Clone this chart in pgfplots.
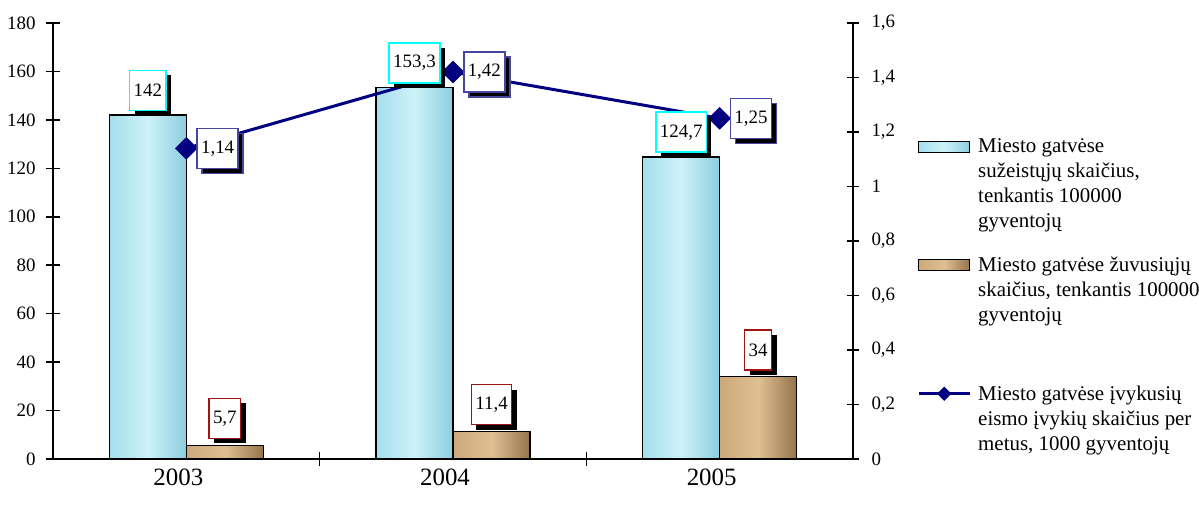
\documentclass[border=0pt]{standalone}
\usepackage{fontspec}
\setmainfont{Liberation Serif}
\usepackage{pgfplots}
\usepackage{pgfplotstable}
\pgfplotsset{compat=1.18}
\usetikzlibrary{shadows}
\definecolor{cyanb}{RGB}{0,255,255}
\definecolor{redb}{RGB}{160,20,20}
\definecolor{navy}{RGB}{0,0,128}
\definecolor{violb}{RGB}{70,70,160}
\definecolor{w1}{RGB}{165,222,235}
\definecolor{w2}{RGB}{205,242,249}
\definecolor{w3}{RGB}{140,205,222}
\definecolor{b1}{RGB}{205,168,122}
\definecolor{b2}{RGB}{222,192,148}
\definecolor{b3}{RGB}{150,115,75}

\pgfplotstableread{
x y lab
0 142 142
1 153.3 153,3
2 124.7 124,7
}\injured
\pgfplotstableread{
x y lab
0 5.7 5,7
1 11.4 11,4
2 34 34
}\killed
\pgfplotstableread{
x y lab
0 1.14 1,14
1 1.42 1,42
2 1.25 1,25
}\accidents

\tikzset{
  blueb/.style={draw=black, line width=1.2bp, left color=w1, right color=w3, middle color=w2},
  brownb/.style={draw=black, line width=1.2bp, left color=b1, right color=b3, middle color=b2},
  lab/.style={fill=white, line width=1.5bp, minimum height=40bp, inner xsep=4bp,
    text=black, font=\fontsize{19}{22}\selectfont,
    drop shadow={shadow xshift=5bp, shadow yshift=-5bp, fill=black, opacity=1}},
}
\pgfplotsset{
  boxlegend/.style={legend image code/.code={\draw[##1] (0bp,-13.5bp) rectangle (51bp,-2.5bp);}},
  linelegend/.style={legend image code/.code={\draw[##1, mark size=4.5bp, mark repeat=2, mark phase=2] plot coordinates {(0bp,-8bp) (25.5bp,-8bp) (51bp,-8bp)};}},
  common/.style={scale only axis, width=800bp, height=436bp, at={(53bp,51bp)},
    anchor=south west, xmin=-0.5, xmax=2.5, clip=false,
    /pgf/number format/assume math mode=true,
    axis line style={line width=1.5bp, black},
    every tick/.style={line width=1.5bp, black},
    major tick length=12bp,
    yticklabel style={font=\fontsize{19}{22}\selectfont},
    xticklabel style={font=\fontsize{25}{30}\selectfont},
  },
  lbar/.style={ybar, bar width=77bp, bar shift=-38.5bp},
  rbar/.style={ybar, bar width=77bp, bar shift=38.5bp},
}

\begin{document}
\begin{tikzpicture}
\path[use as bounding box] (0,0) rectangle (1199bp,510bp);
% bars
\begin{axis}[common, ymin=0, ymax=180, ytick={0,20,...,180},
  axis x line*=bottom, axis y line*=left, tick align=center,
  xtick={0.5,1.5}, xticklabels={}, major tick length=14bp,
  extra x ticks={0,1,2}, extra x tick labels={2003,2004,2005},
  extra x tick style={major tick length=0pt, xticklabel style={yshift=-6bp, xshift=-8bp}},
  yticklabel style={xshift=-7bp}]
\addplot[blueb, lbar] coordinates {(0,142)};
\addplot[blueb, lbar] coordinates {(1,153.3)};
\addplot[blueb, lbar] coordinates {(2,124.7)};
\addplot[brownb, rbar] coordinates {(0,5.7)};
\addplot[brownb, rbar] coordinates {(1,11.4)};
\addplot[brownb, rbar] coordinates {(2,34)};
\end{axis}
% line
\begin{axis}[common, ymin=0, ymax=1.6, ytick={0,0.2,...,1.6},
  yticklabels={0,{0,2},{0,4},{0,6},{0,8},1,{1,2},{1,4},{1,6}},
  axis y line*=right, axis x line=none, tick align=center,
  yticklabel style={xshift=9bp},
  legend style={at={(rel axis cs:1.08,0.735)}, anchor=north west, draw=none, fill=none,
    font=\fontsize{21}{25}\selectfont, cells={anchor=north west, align=left},
    nodes={inner sep=0pt}, row sep=28bp, column sep=7bp, inner sep=0pt}]
\addlegendimage{blueb, boxlegend}
\addlegendentry{Miesto gatvėse\\sužeistųjų skaičius,\\tenkantis 100000\\gyventojų}
\addlegendimage{brownb, boxlegend}
\addlegendentry{Miesto gatvėse žuvusiųjų\\skaičius, tenkantis 100000\\gyventojų}
\addlegendimage{empty legend}
\addlegendentry{\rule{0pt}{5bp}}
\addplot[navy, line width=3bp, mark=square*, mark size=7.5bp, mark options={rotate=45, solid, line width=1bp},
  nodes near coords, point meta=explicit symbolic,
  every node near coord/.append style={lab, draw=violb, anchor=west, xshift=10bp},
  linelegend]
  table[x=x,y=y,meta=lab]{\accidents};
\addlegendentry{Miesto gatvėse įvykusių\\eismo įvykių skaičius per\\metus, 1000 gyventojų}
\end{axis}
% bar labels on top
\begin{axis}[common, ymin=0, ymax=180, hide axis, ybar=0pt, bar width=77bp]
\addplot[draw=none, fill=none, nodes near coords, point meta=explicit symbolic,
  every node near coord/.append style={lab, draw=cyanb, anchor=south, yshift=4bp}]
  table[x=x,y=y,meta=lab]{\injured};
\addplot[draw=none, fill=none, nodes near coords, point meta=explicit symbolic,
  every node near coord/.append style={lab, draw=redb, anchor=south, yshift=6bp}]
  table[x=x,y=y,meta=lab]{\killed};
\end{axis}
\end{tikzpicture}
\end{document}
